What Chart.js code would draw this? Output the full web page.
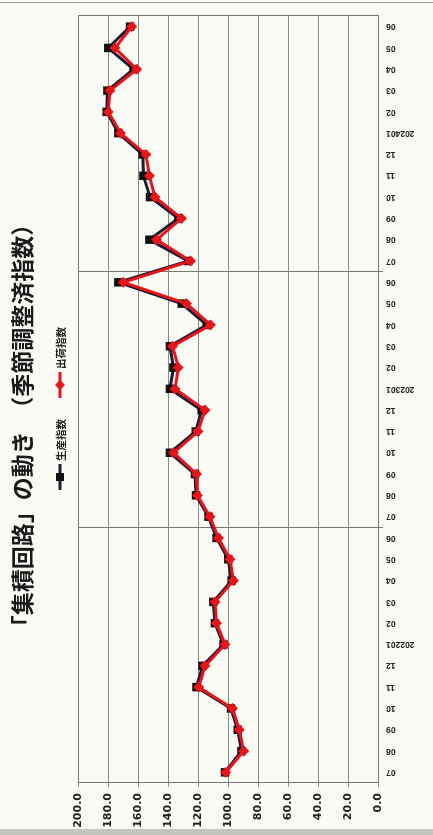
<!DOCTYPE html>
<html lang="ja">
<head>
<meta charset="utf-8">
<title>集積回路の動き</title>
<script src="https://cdn.jsdelivr.net/npm/chart.js@4.4.1/dist/chart.umd.min.js"></script>
<style>
  html, body { margin: 0; padding: 0; }
  body { width: 433px; height: 835px; overflow: hidden; background: #fbfbf6; position: relative; }
  /* el grafico se dibuja apaisado y luego se gira 90 grados a la izquierda */
  #wrap { position: absolute; left: 0; top: 835px; width: 835px; height: 433px;
          transform-origin: 0 0; transform: rotate(-90deg); }
  .edge-top { position: absolute; left: 0; top: 2px; width: 433px; height: 1px; background: #9a9a9a; }
  .edge-bottom { position: absolute; left: 0; top: 829px; width: 433px; height: 6px; background: #c4c4c0; }
</style>
</head>
<body>
<div class="edge-top"></div>
<div id="wrap"><canvas id="icChart" width="835" height="433"></canvas></div>
<div class="edge-bottom"></div>
<script>
// --- datos (2021/07 - 2024/06) ---
const meses = ['07','08','09','10','11','12','202201','02','03','04','05','06',
               '07','08','09','10','11','12','202301','02','03','04','05','06',
               '07','08','09','10','11','12','202401','02','03','04','05','06'];

const produccion = [102, 91, 93.5, 98, 121, 117, 103, 108.7, 109.8, 97.6, 99.8, 107.6,
                    113, 121.3, 122, 138.7, 121.5, 117.6, 138.7, 136.4, 138.7, 114.2, 130.9, 173.1,
                    126.5, 152.4, 133.1, 152, 156.4, 156.9, 173.1, 180.9, 180.4, 163, 179.8, 165.3];

const envios = [101.5, 89.5, 92.5, 97, 119.5, 115.3, 102, 107.6, 108.7, 96.4, 98.7, 106.4,
                112, 120.4, 121, 136.4, 120, 115.3, 135.3, 133.1, 137, 111.6, 127.6, 169.8,
                125, 147.6, 131, 148.7, 152.4, 154.7, 171.6, 179.8, 178.7, 160.9, 175.3, 164.2];

const nombres = ['生産指数', '出荷指数'];
const ticksValor = { min: 0, max: 200, step: 20 };

const NEGRO = '#1c1c34';
const ROJO = '#e8141c';
const GRIS = '#8a8a8a';

// leyenda a mano: linea con marcador + texto, como la de Excel
const leyendaPlugin = {
    id: 'leyendaExcel',
    afterDraw(chart) {
        const ctx = chart.ctx;
        const items = [
            { ds: chart.data.datasets[0], x: 345 },
            { ds: chart.data.datasets[1], x: 437 }
        ];
        const y = 60;
        ctx.save();
        items.forEach(it => {
            ctx.strokeStyle = it.ds.borderColor;
            ctx.lineWidth = 3;
            ctx.beginPath();
            ctx.moveTo(it.x, y);
            ctx.lineTo(it.x + 26, y);
            ctx.stroke();
            ctx.fillStyle = it.ds.pointBackgroundColor;
            if (it.ds.pointStyle === 'rect') {
                ctx.fillRect(it.x + 13 - 4, y - 4, 8, 8);
            } else {
                ctx.beginPath();
                ctx.moveTo(it.x + 13, y - 5);
                ctx.lineTo(it.x + 18, y);
                ctx.lineTo(it.x + 13, y + 5);
                ctx.lineTo(it.x + 8, y);
                ctx.closePath();
                ctx.fill();
            }
            ctx.fillStyle = '#222';
            ctx.font = 'bold 10.5px "Noto Sans CJK JP"';
            ctx.textBaseline = 'middle';
            ctx.fillText(it.ds.label, it.x + 29, y + 1);
        });
        ctx.restore();
    }
};

// marco completo del area de trazado
const marcoPlugin = {
    id: 'marco',
    beforeDatasetsDraw(chart) {
        const a = chart.chartArea;
        const ctx = chart.ctx;
        ctx.save();
        ctx.strokeStyle = '#777';
        ctx.lineWidth = 1;
        ctx.strokeRect(Math.round(a.left) + 0.5, Math.round(a.top) + 0.5,
                       Math.round(a.right - a.left), Math.round(a.bottom - a.top));
        ctx.restore();
    }
};

const grafico = new Chart(document.getElementById('icChart'), {
    type: 'line',
    data: {
        labels: meses,
        datasets: [
            {
                label: nombres[0],
                data: produccion,
                borderColor: NEGRO,
                backgroundColor: NEGRO,
                borderWidth: 3,
                pointStyle: 'rect',
                pointRadius: 6,
                pointBackgroundColor: '#111',
                pointBorderColor: '#111',
                pointBorderWidth: 0,
                tension: 0,
                order: 1
            },
            {
                label: nombres[1],
                data: envios,
                borderColor: ROJO,
                backgroundColor: ROJO,
                borderWidth: 3,
                pointStyle: 'rectRot',
                pointRadius: 5.5,
                pointBackgroundColor: ROJO,
                pointBorderColor: ROJO,
                pointBorderWidth: 0,
                tension: 0,
                order: 0
            }
        ]
    },
    options: {
        responsive: false,
        animation: false,
        devicePixelRatio: 1,
        layout: { padding: { top: 0, right: 16, bottom: 0, left: 0 } },
        plugins: {
            legend: { display: false },
            tooltip: { enabled: false },
            title: {
                display: true,
                text: '「集積回路」の動き　（季節調整済指数）',
                color: '#1a1a1a',
                font: { family: '"Noto Sans CJK JP"', size: 23, weight: 'bold', lineHeight: 1.2 },
                padding: { top: 8, bottom: 42.4 }
            }
        },
        scales: {
            x: {
                type: 'category',
                offset: true,
                afterFit: s => { s.height = 55; },
                grid: {
                    offset: true,
                    drawOnChartArea: true,
                    tickLength: 5,
                    color: c => (c.index !== undefined && c.index % 12 === 0 && c.index > 0) ? '#777' : 'transparent'
                },
                border: { display: true, color: '#666' },
                ticks: {
                    autoSkip: false,
                    minRotation: 90,
                    maxRotation: 90,
                    padding: 3,
                    color: '#222',
                    font: { family: '"Liberation Sans"', size: 8.5, weight: 'bold' }
                }
            },
            y: {
                min: ticksValor.min,
                max: ticksValor.max,
                afterFit: s => { s.width = 52; },
                grid: { color: GRIS, tickLength: 4, lineWidth: 1 },
                border: { display: true, color: '#666' },
                ticks: {
                    stepSize: ticksValor.step,
                    padding: 6,
                    color: '#222',
                    font: { family: '"DejaVu Sans"', size: 11, weight: 'bold' },
                    callback: v => v.toFixed(1)
                }
            }
        }
    },
    plugins: [marcoPlugin, leyendaPlugin]
});
</script>
</body>
</html>
